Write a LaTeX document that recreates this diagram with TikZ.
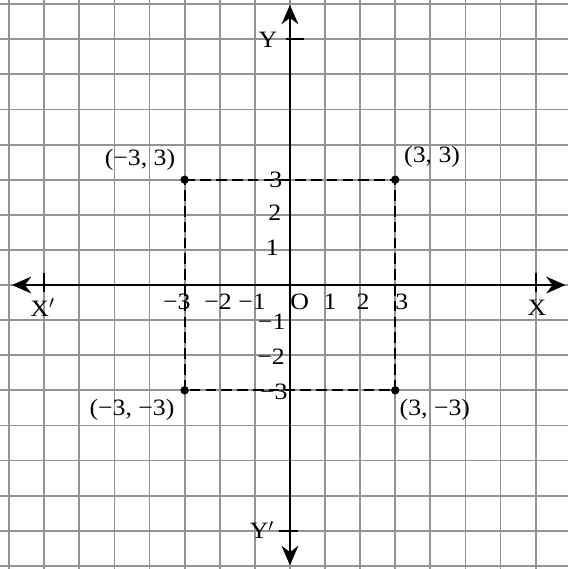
\documentclass[tikz,border=0pt]{standalone}
\usepackage{fontspec}
\setmainfont{Liberation Serif}[FakeStretch=1.1]
\usetikzlibrary{arrows.meta}

\tikzset{
  gridline/.style={gray!85, line width=1.5pt},
  axisline/.style={black, line width=1.6pt, {Stealth[length=0.55cm,width=0.48cm]}-{Stealth[length=0.55cm,width=0.48cm]}},
  tickmark/.style={black, line width=1.6pt},
  squareline/.style={black, line width=1.8pt, dash pattern=on 0.3cm off 0.15cm},
  dot/.style={circle, fill=black, inner sep=0pt, minimum size=0.24cm},
  lbl/.style={font=\fontsize{19}{22}\selectfont, inner sep=1pt}
}

\begin{document}
\begin{tikzpicture}
    \useasboundingbox (-8.26,-8.09) rectangle (7.92,8.12);

    %----------------------
    % GRAPH PAPER
    %----------------------
    \draw[gridline] (-8.26,-8.09) grid (7.92,8.12);

    %----------------------
    % AXES
    %----------------------
    \coordinate (xleft) at (-7.92,0);
    \coordinate (xright) at (7.85,0);
    \coordinate (ytop) at (0,7.98);
    \coordinate (ybottom) at (0,-7.98);
    \draw[axisline] (xleft) -- (xright);
    \draw[axisline] (ybottom) -- (ytop);

    % ticks at the ends of the axes
    \draw[tickmark] (-7,0.35) -- (-7,-0.2);
    \draw[tickmark] (7,0.35) -- (7,-0.2);
    \draw[tickmark] (-0.1,7) -- (0.4,7);
    \draw[tickmark] (-0.3,-7) -- (0.22,-7);

    % axis names
    \node[lbl] (xprime) at (-7.05,-0.65) {X$'$};
    \node[lbl] (xname) at (7.04,-0.65) {X};
    \node[lbl] (yname) at (-0.63,6.98) {Y};
    \node[lbl] (yprime) at (-0.8,-6.98) {Y$'$};

    %----------------------
    % NUMBERS ON THE AXES
    %----------------------
    \node[lbl] (xm3) at (-3.22,-0.48) {−3};
    \node[lbl] (xm2) at (-2.05,-0.48) {−2};
    \node[lbl] (xm1) at (-1.08,-0.48) {−1};
    \node[lbl] (orig) at (0.28,-0.48) {O};
    \node[lbl] (xp1) at (1.14,-0.48) {1};
    \node[lbl] (xp2) at (2.08,-0.48) {2};
    \node[lbl] (xp3) at (3.19,-0.48) {3};

    \node[lbl] (yp1) at (-0.5,1.05) {1};
    \node[lbl] (yp2) at (-0.43,2.05) {2};
    \node[lbl] (yp3) at (-0.4,3.0) {3};
    \node[lbl] (ym1) at (-0.52,-1.05) {−1};
    \node[lbl] (ym2) at (-0.54,-2.05) {−2};
    \node[lbl] (ym3) at (-0.46,-3.05) {−3};

    %----------------------
    % SQUARE
    %----------------------
    \node[dot] (ptl) at (-3,3) {};
    \node[dot] (ptr) at (3,3) {};
    \node[dot] (pbr) at (3,-3) {};
    \node[dot] (pbl) at (-3,-3) {};
    \draw[squareline] (ptl.center) -- (ptr.center) -- (pbr.center) -- (pbl.center) -- cycle;

    % corner labels
    \node[lbl] (ltl) at (-4.27,3.57) {(−3, 3)};
    \node[lbl] (ltr) at (4.05,3.65) {(3, 3)};
    \node[lbl] (lbl) at (-4.5,-3.56) {(−3, −3)};
    \node[lbl] (lbr) at (4.13,-3.56) {(3, −3)};

\end{tikzpicture}
\end{document}
